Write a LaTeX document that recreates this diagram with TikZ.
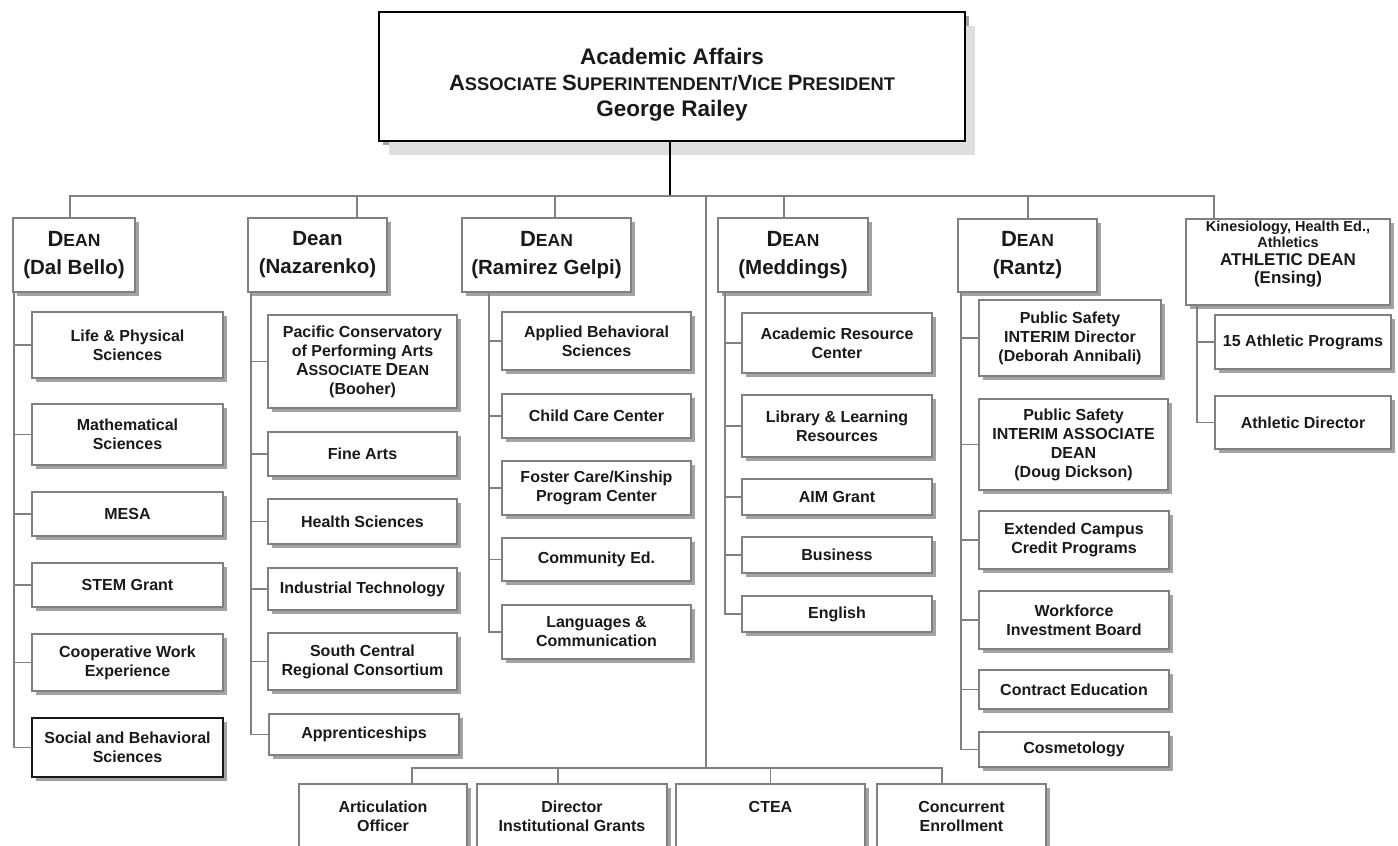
\documentclass[tikz,border=0pt]{standalone}
\usepackage{fontspec}
\setmainfont{Liberation Sans}
\usetikzlibrary{shadows}
\definecolor{linegray}{HTML}{808080}
\definecolor{boxgray}{HTML}{808080}
\definecolor{shadowgray}{HTML}{A3A3A3}
\definecolor{txt}{HTML}{1A1A1A}
\newcommand\ob[7]{\node[#1, minimum width={(#4-#3)*1pt}, minimum height={(#6-#5)*1pt}] (#2) at ({(#3+#4)/2},{(#5+#6)/2}) {#7};}
\newcommand\DEANt{{\fontsize{22}{27}\selectfont D\fontsize{17.5}{27}\selectfont EAN}}
\newcommand\tsc[2]{{\fontsize{22}{26}\selectfont #1}{\fontsize{18.3}{26}\selectfont #2}}
\newcommand\psc[2]{{\fontsize{17.5}{19}\selectfont #1}{\fontsize{14.5}{19}\selectfont #2}}
\newcommand\branch[3]{\draw[conn] ([xshift=#2pt]#1.south west) |- (#3.west);}
\tikzset{
  conn/.style={draw=linegray, line width=1.7pt},
  box/.style={draw=boxgray, line width=1.8pt, fill=white, align=center, text=txt,
    font=\bfseries\fontsize{16}{19}\selectfont, inner sep=0pt,
    drop shadow={shadow xshift=4pt, shadow yshift=-4pt, fill=shadowgray, opacity=1}},
  deanbox/.style={box, font=\bfseries\fontsize{20.5}{28}\selectfont},
  topbox/.style={box, draw=black, line width=1.5pt,
    drop shadow={shadow xshift=10pt, shadow yshift=-14pt, fill=black!13, opacity=1}},
  blackbox/.style={box, draw=black!90},
  boxtext/.style={align=center, text=txt, inner sep=0pt},
}
\begin{document}
\begin{tikzpicture}[x=1pt, y=-1pt]
\useasboundingbox (0,0) rectangle (1398,846);
\fill[white] (0,0) rectangle (1398,846);
\clip (0,0) rectangle (1398,846);

% top
\ob{topbox}{top}{379}{965}{12}{141}{}
\node[boxtext, font=\bfseries\fontsize{22.5}{26}\selectfont] (toptxt) at ([yshift=-8.5pt]top.center) {Academic Affairs\\
  \tsc{A}{SSOCIATE }\tsc{S}{UPERINTENDENT/}\tsc{V}{ICE }\tsc{P}{RESIDENT}\\
  George Railey};

% deans
\ob{deanbox}{dal}{13}{135}{218}{292}{\DEANt\\(Dal Bello)}
\ob{deanbox}{naz}{248}{387}{218}{292}{Dean\\(Nazarenko)}
\ob{deanbox}{ram}{462}{631}{218}{292}{\DEANt\\(Ramirez Gelpi)}
\ob{deanbox}{med}{718}{868}{218}{292}{\DEANt\\(Meddings)}
\ob{deanbox}{ran}{958}{1097}{219}{292}{\DEANt\\(Rantz)}
\ob{box}{ens}{1186}{1390}{219}{305}{}
\node[boxtext, font=\bfseries\fontsize{17}{18}\selectfont] (enstxt) at ([yshift=8pt]ens.center)
  {{\fontsize{14.5}{18}\selectfont Kinesiology, Health Ed.,}\\[-1.5pt]{\fontsize{14.5}{18}\selectfont Athletics}\\[-0.5pt]ATHLETIC DEAN\\(Ensing)};

% Dal Bello column
\ob{box}{life}{32}{223}{312}{378}{Life \& Physical\\Sciences}
\ob{box}{math}{32}{223}{404}{465}{Mathematical\\Sciences}
\ob{box}{mesa}{32}{223}{492}{536}{MESA}
\ob{box}{stem}{32}{223}{563}{607}{STEM Grant}
\ob{box}{coop}{32}{223}{634}{691}{Cooperative Work\\Experience}
\ob{blackbox}{soc}{32}{223}{718}{777}{Social and Behavioral\\Sciences}

% Nazarenko column
\ob{box}{pac}{268}{457}{315}{408}{Pacific Conservatory\\of Performing Arts\\\psc{A}{SSOCIATE }\psc{D}{EAN}\\(Booher)}
\ob{box}{fine}{268}{457}{432}{476}{Fine Arts}
\ob{box}{health}{268}{457}{499}{544}{Health Sciences}
\ob{box}{ind}{268}{457}{568}{610}{Industrial Technology}
\ob{box}{south}{268}{457}{633}{690}{South Central\\Regional Consortium}
\ob{box}{appr}{269}{459}{714}{755}{Apprenticeships}

% Ramirez Gelpi column
\ob{box}{appl}{502}{691}{312}{370}{Applied Behavioral\\Sciences}
\ob{box}{child}{502}{691}{394}{438}{Child Care Center}
\ob{box}{foster}{502}{691}{461}{515}{Foster Care/Kinship\\Program Center}
\ob{box}{comm}{502}{691}{538}{581}{Community Ed.}
\ob{box}{lang}{502}{691}{605}{659}{Languages \&\\Communication}

% Meddings column
\ob{box}{arc}{742}{932}{313}{373}{Academic Resource\\Center}
\ob{box}{lib}{742}{932}{395}{457}{Library \& Learning\\Resources}
\ob{box}{aim}{742}{932}{479}{515}{AIM Grant}
\ob{box}{busn}{742}{932}{537}{573}{Business}
\ob{box}{eng}{742}{932}{596}{632}{English}

% Rantz column
\ob{box}{psa}{979}{1161}{300}{376}{Public Safety\\INTERIM Director\\(Deborah Annibali)}
\ob{box}{psb}{979}{1168}{399}{490}{Public Safety\\INTERIM ASSOCIATE\\DEAN\\(Doug Dickson)}
\ob{box}{ext}{979}{1169}{511}{569}{Extended Campus\\Credit Programs}
\ob{box}{work}{979}{1169}{591}{649}{Workforce\\Investment Board}
\ob{box}{contr}{979}{1169}{670}{709}{Contract Education}
\ob{box}{cosm}{979}{1169}{732}{767}{Cosmetology}

% Ensing column
\ob{box}{athp}{1215}{1391}{315}{369}{15 Athletic Programs}
\ob{box}{athd}{1215}{1391}{396}{449}{Athletic Director}

% bottom row
\ob{box}{art}{299}{467}{784}{848}{Articulation\\Officer}
\ob{box}{dir}{477}{667}{784}{848}{Director\\Institutional Grants}
\ob{box}{ctea}{676}{865}{784}{848}{CTEA\\\phantom{X}}
\ob{box}{conc}{877}{1046}{784}{848}{Concurrent\\Enrollment}

% connectors: top to dean bus
\coordinate (bus) at (0,196);
\coordinate (cvtop) at (706,196);
\coordinate (cvbot) at (706,768);
\draw[black, line width=1.5pt] ([xshift=-2pt]top.south) -- ([xshift=-2pt]top.south |- bus);
\draw[conn] ([xshift=-4pt]dal.north) -- ([xshift=-4pt]dal.north |- bus) -- ([xshift=-74pt]ens.north |- bus) -- ([xshift=-74pt]ens.north);
\draw[conn] ([xshift=39.5pt]naz.north) -- ([xshift=39.5pt]naz.north |- bus);
\draw[conn] ([xshift=8.5pt]ram.north) -- ([xshift=8.5pt]ram.north |- bus);
\draw[conn] ([xshift=-9pt]med.north) -- ([xshift=-9pt]med.north |- bus);
\draw[conn] ([xshift=0.5pt]ran.north) -- ([xshift=0.5pt]ran.north |- bus);
\draw[conn] (cvtop) -- (cvbot);

% bottom bus
\draw[conn] ([xshift=29pt]art.north) -- ([xshift=29pt]art.north |- cvbot) -- ([xshift=-19.5pt]conc.north |- cvbot) -- ([xshift=-19.5pt]conc.north);
\draw[conn] ([xshift=-14pt]dir.north) -- ([xshift=-14pt]dir.north |- cvbot);
\draw[conn] (ctea.north) -- (ctea.north |- cvbot);

% branches
\foreach \c in {life,math,mesa,stem,coop,soc} {\branch{dal}{2}{\c}}
\foreach \c in {pac,fine,health,ind,south,appr} {\branch{naz}{4}{\c}}
\foreach \c in {appl,child,foster,comm,lang} {\branch{ram}{28}{\c}}
\foreach \c in {arc,lib,aim,busn,eng} {\branch{med}{8}{\c}}
\foreach \c in {psa,psb,ext,work,contr,cosm} {\branch{ran}{4}{\c}}
\foreach \c in {athp,athd} {\branch{ens}{12}{\c}}
\end{tikzpicture}
\end{document}
